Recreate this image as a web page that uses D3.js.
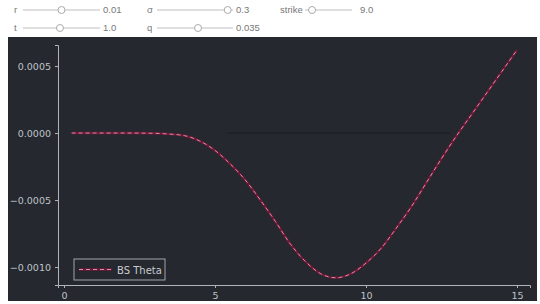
<!DOCTYPE html>
<html>
<head>
<meta charset="utf-8">
<script src="https://cdn.jsdelivr.net/npm/d3@7"></script>
<style>
  body { margin: 0; background: #fff; }
  svg { display: block; font-family: "DejaVu Sans", sans-serif; }
</style>
</head>
<body>
<svg id="chart" width="540" height="304"></svg>
<script>
// spot price vs theta
var spot = [0.25, 1, 2, 3, 3.5, 4, 4.5, 5, 5.5, 6, 6.5, 7, 7.5, 8, 8.5, 9, 9.5, 10, 10.5, 11, 11.5, 12, 12.5, 13, 13.5, 14, 14.5, 15];
var theta = [0, 0, 0, -0.000002, -0.000008, -0.00002, -0.00006, -0.00013, -0.00023, -0.00035, -0.0005, -0.00066, -0.00083, -0.00096, -0.00105, -0.00108, -0.00105, -0.00097, -0.00086, -0.00071, -0.00055, -0.00037, -0.00019, -0.00002, 0.00014, 0.0003, 0.00046, 0.00062];
var xTicks = [0, 5, 10, 15];
var yTicks = [0.0005, 0, -0.0005, -0.001];

// the widget row above the plot
var sliders = [
  {label: "r", value: "0.01", pos: 0.5},
  {label: "σ", value: "0.3", pos: 0.93},
  {label: "strike", value: "9.0", pos: 0.15},
  {label: "t", value: "1.0", pos: 0.48},
  {label: "q", value: "0.035", pos: 0.54}
];

var svg = d3.select("#chart");

// sliders
var sx = [14, 147, 280, 14, 147];
var sy = [10, 10, 10, 28, 28];
var trackStart = [23, 157, 305, 23, 157];
var trackLen = [77, 76, 47, 77, 76];
sliders.forEach(function(s, i){
  var g = svg.append("g");
  g.append("text").attr("x", sx[i]).attr("y", sy[i] + 3)
    .style("font-family", "Liberation Sans, Arial, sans-serif")
    .style("font-size", "9.5px").style("fill", "#777").text(s.label);
  g.append("line")
    .attr("x1", trackStart[i]).attr("x2", trackStart[i] + trackLen[i])
    .attr("y1", sy[i]).attr("y2", sy[i])
    .style("stroke", "#d4d4d4").style("stroke-width", 1.5);
  g.append("circle")
    .attr("cx", trackStart[i] + s.pos * trackLen[i]).attr("cy", sy[i]).attr("r", 3.5)
    .style("fill", "#fff").style("stroke", "#aaa");
  g.append("text").attr("x", i == 2 ? 360 : trackStart[i] + trackLen[i] + 3).attr("y", sy[i] + 3)
    .style("font-family", "Liberation Sans, Arial, sans-serif")
    .style("font-size", "9.5px").style("fill", "#777").text(s.value);
});

// dark panel
svg.append("rect").attr("x", 8).attr("y", 37).attr("width", 529).attr("height", 264)
  .style("fill", "#25282e");

var x = d3.scaleLinear().domain([-0.2, 15.43]).range([58, 530]);
var y = d3.scaleLinear().domain([-0.001134, 0.000657]).range([285, 45]);

var axisColor = "#b0b4bb";

var xAxis = svg.append("g").attr("transform", "translate(0,285)")
  .call(d3.axisBottom(x).tickValues(xTicks).tickSize(3).tickPadding(4).tickFormat(d3.format("d")));
var yAxis = svg.append("g").attr("transform", "translate(58,0)")
  .call(d3.axisLeft(y).tickValues(yTicks).tickSize(3).tickPadding(4)
    .tickFormat(function(d){ return d3.format(".4f")(d).replace("-", "\u2212"); }));

[xAxis, yAxis].forEach(function(a){
  a.select(".domain").style("stroke", axisColor).style("stroke-width", 1);
  a.selectAll(".tick line").style("stroke", axisColor);
  a.selectAll(".tick text").style("fill", "#bfc3c9").style("font-size", "9.5px")
    .style("font-family", "DejaVu Sans, sans-serif");
});

// faint zero line
svg.append("line")
  .attr("x1", x(5.4)).attr("x2", x(12.8))
  .attr("y1", y(0)).attr("y2", y(0))
  .style("stroke", "#1b1d21").style("stroke-width", 1);

var line = d3.line()
  .x(function(d, i){ return x(spot[i]); })
  .y(function(d){ return y(d); })
  .curve(d3.curveMonotoneX);

svg.append("path").datum(theta).attr("d", line)
  .style("fill", "none").style("stroke", "#6e1a38").style("stroke-width", 2.4);
svg.append("path").datum(theta).attr("d", line)
  .style("fill", "none").style("stroke", "#d98ca3").style("stroke-width", 1)
  .style("stroke-dasharray", "4,3");

// legend
var lg = svg.append("g");
lg.append("rect").attr("x", 74).attr("y", 259).attr("width", 91).attr("height", 21)
  .style("fill", "#25282e").style("stroke", "#a0a4ab").style("stroke-width", 1);
lg.append("line").attr("x1", 79).attr("x2", 112).attr("y1", 269.5).attr("y2", 269.5)
  .style("stroke", "#6e1a38").style("stroke-width", 2.4);
lg.append("line").attr("x1", 79).attr("x2", 112).attr("y1", 269.5).attr("y2", 269.5)
  .style("stroke", "#d98ca3").style("stroke-width", 1).style("stroke-dasharray", "4,3");
lg.append("text").attr("x", 117).attr("y", 273.5)
  .style("font-size", "10px").style("fill", "#c8cbd0").text("BS Theta");
</script>
</body>
</html>
